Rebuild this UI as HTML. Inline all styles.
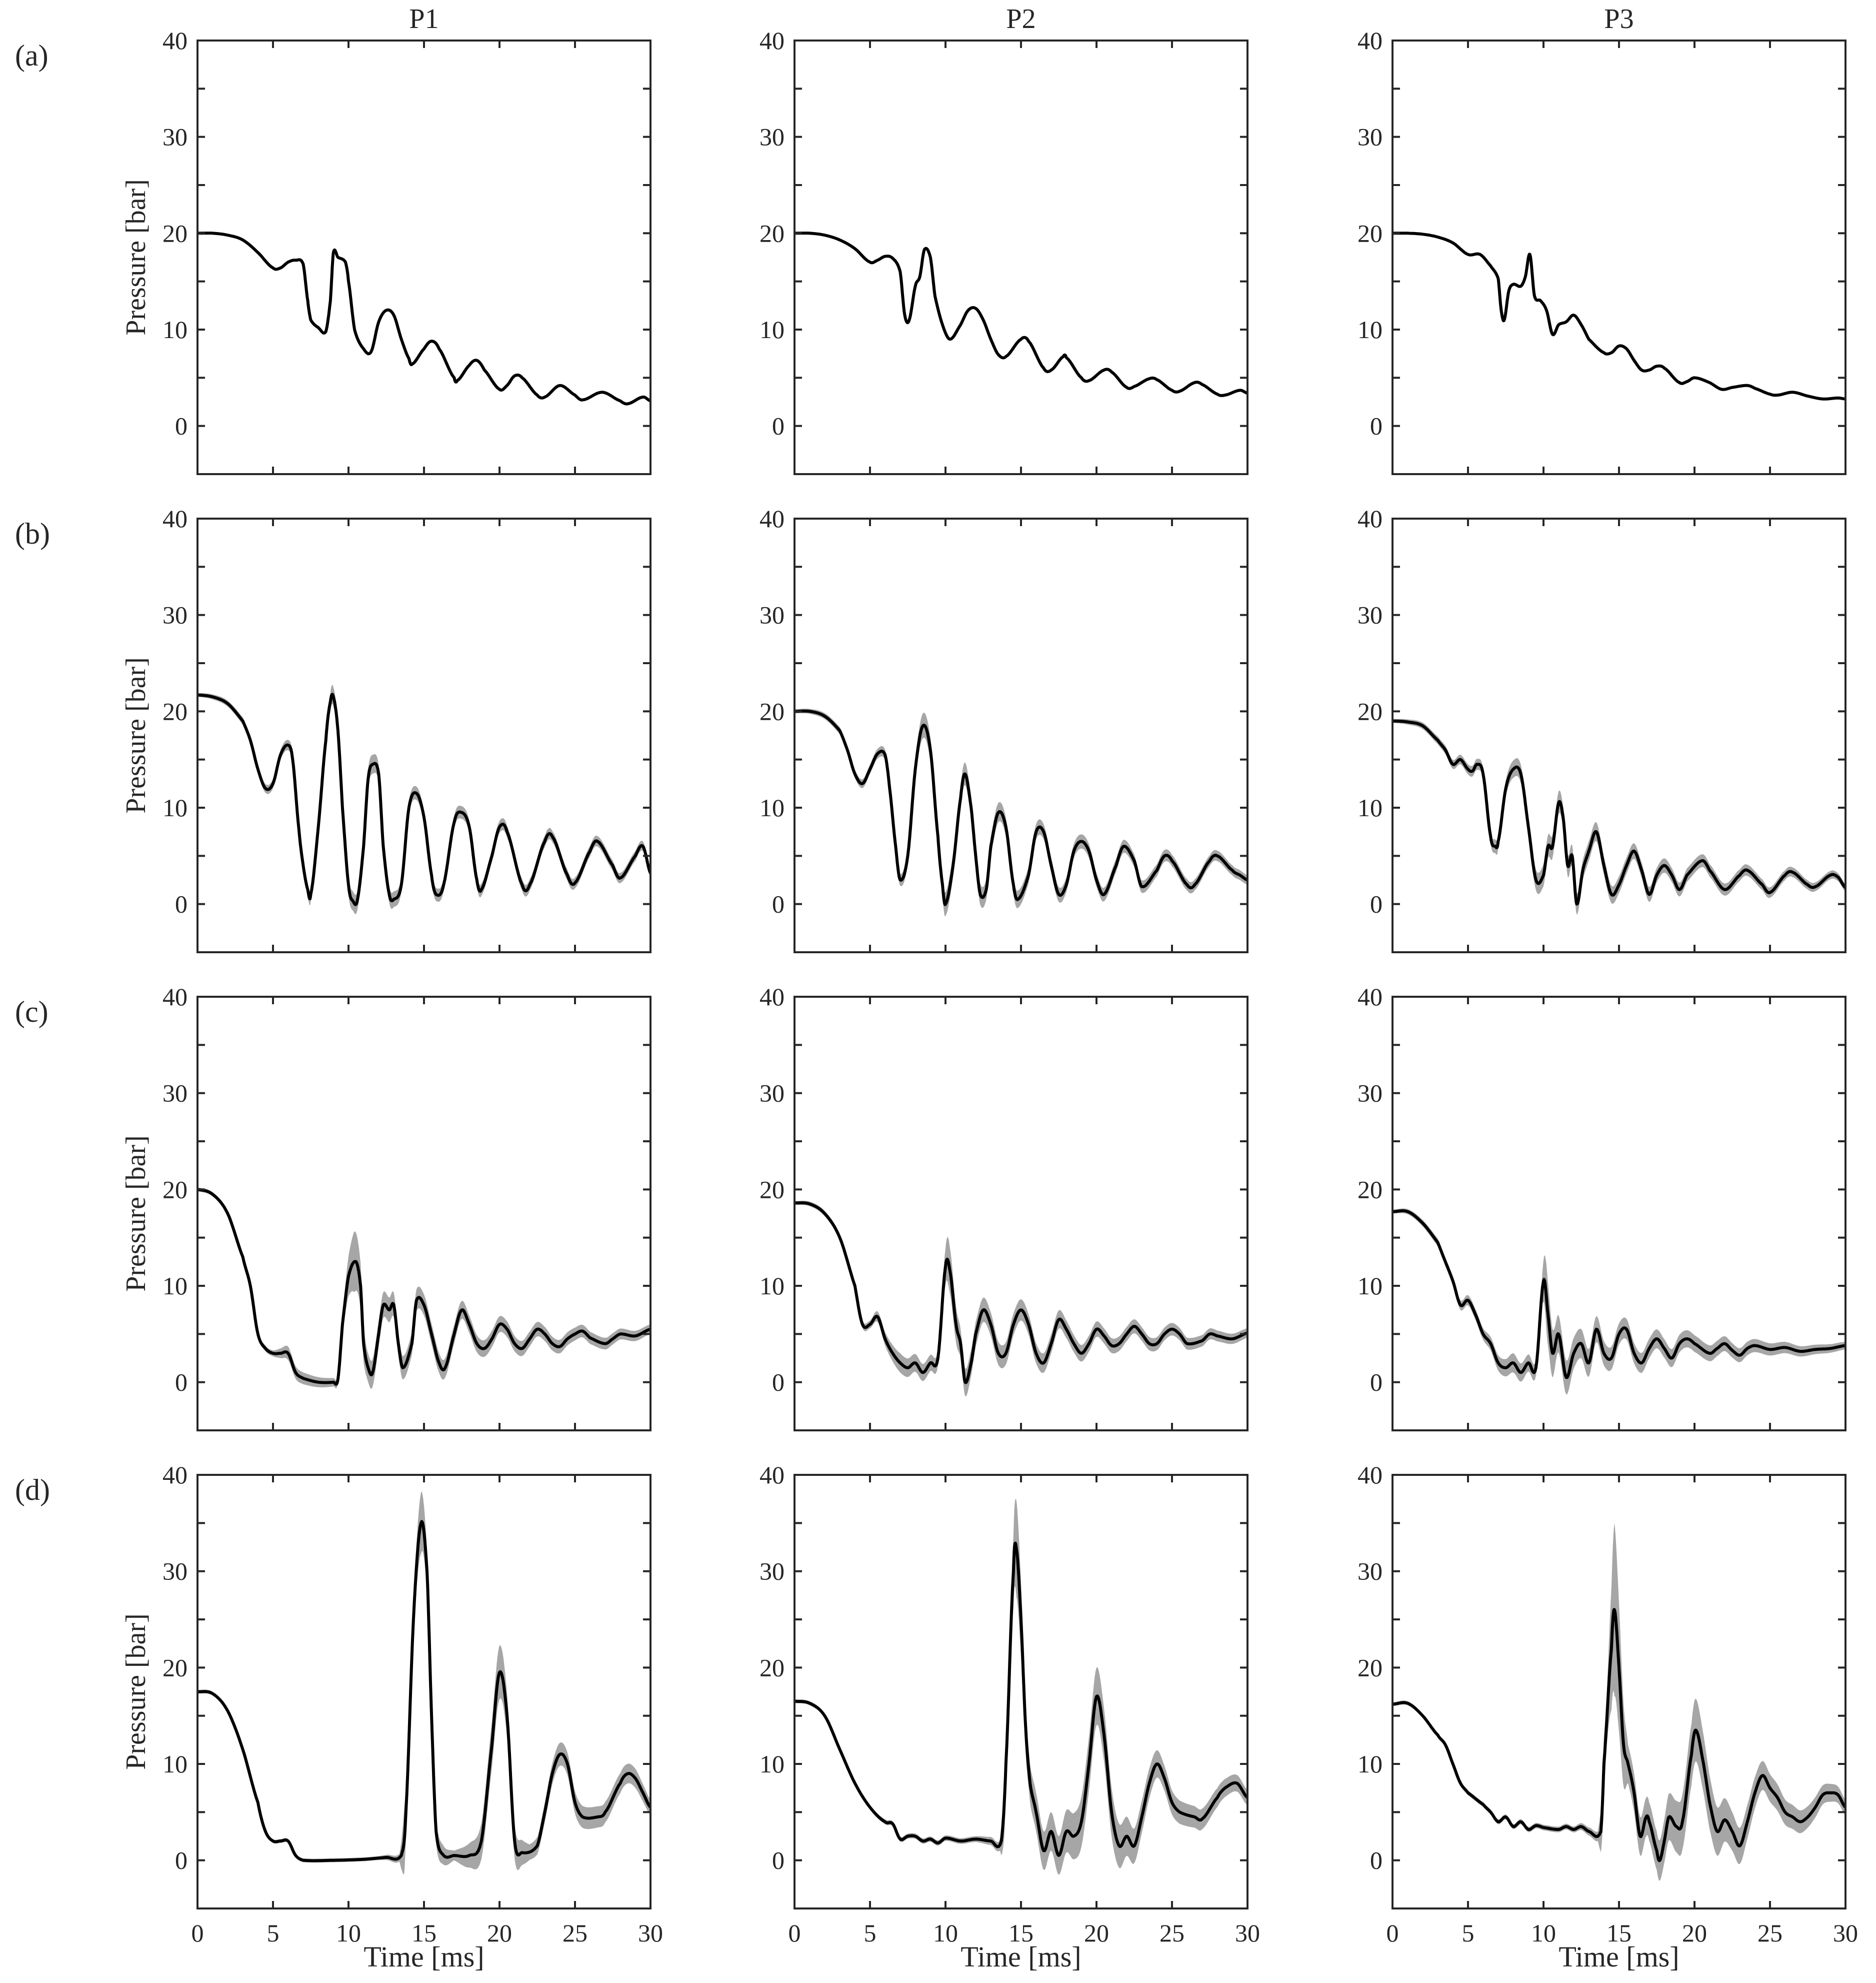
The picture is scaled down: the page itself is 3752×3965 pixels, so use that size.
<!DOCTYPE html>
<html><head><meta charset="utf-8"><style>
html,body{margin:0;padding:0;background:#fff}
svg{display:block}
text{font-family:"Liberation Serif",serif;fill:#262626}
</style></head><body>
<svg id="fig" xmlns="http://www.w3.org/2000/svg" width="3752" height="3965" viewBox="0 0 3752 3965"></svg>
<script>
// ---- data ----
const colTitles = ["P1","P2","P3"];
const rowLabels = ["(a)","(b)","(c)","(d)"];
const xTicks = [0,5,10,15,20,25,30];
const yTicks = [-5,0,5,10,15,20,25,30,35,40];
const yTickLabels = [0,10,20,30,40];

const a1T=[0,1,2,3,4,5,5.5,6,6.5,7,7.3,7.5,8,8.5,8.8,9,9.3,9.8,10,10.4,11,11.5,12,12.5,13,13.5,14,14.2,15,15.5,16,17,17.2,18,18.5,19,20,20.5,21,21.5,22.5,23,24,25,25.5,26.8,28,28.5,29.5,30];
const a1P=[20,20,19.8,19.3,18,16.4,16.4,17,17.2,16.8,13,11,10.2,9.8,13,18,17.5,17,15,10,8,7.7,10.8,12,11.5,9,7,6.4,8,8.8,8,5,4.7,6.3,6.8,5.8,3.8,4.2,5.2,5,3.2,3,4.2,3.2,2.7,3.5,2.6,2.3,3,2.6];
const a2T=[0,1,2,3,4,5,5.5,6,6.5,7,7.3,7.6,8,8.3,8.6,9,9.3,9.8,10.3,11,11.5,12,12.5,13,13.5,14,15,15.5,16.5,17,17.8,18,19,19.5,20.5,21,22,22.5,23.5,24,25,25.5,26.5,27,28,28.5,29.5,30];
const a2P=[20,20,19.8,19.3,18.4,17,17.2,17.6,17.4,16,11.5,11,14.5,15.5,18.3,17.5,13.5,10.5,9,10.5,12,12.2,11,9,7.4,7.2,9,8.8,6,5.8,7.2,7.1,5,4.7,5.8,5.6,4,4.1,4.9,4.8,3.7,3.6,4.5,4.3,3.3,3.2,3.7,3.4];
const a3T=[0,1,2,3,4,5,5.8,6.5,7,7.2,7.4,7.7,8,8.5,8.8,9.1,9.4,9.8,10.2,10.6,11,11.5,12,12.5,13,14,14.5,15,15.5,16,16.5,17,17.5,18,19,19.5,20,21,21.8,22.5,23.5,24,25,25.5,26.5,27.5,28.5,29.5,30];
const a3P=[20,20,19.9,19.6,19,17.8,17.8,16.6,15.3,12,11,14,14.7,14.5,15.5,17.8,13.5,13,12,9.5,10.5,10.8,11.5,10.5,9,7.6,7.6,8.3,8,6.8,5.8,5.8,6.2,6,4.5,4.6,5,4.5,3.8,4,4.2,3.9,3.3,3.2,3.5,3.1,2.8,2.9,2.8];

const b1T=[0,1,2,3,3.5,4,4.5,5,5.5,6,6.3,6.7,7,7.3,7.5,8,8.5,8.8,9,9.3,9.6,10,10.3,10.6,11,11.3,11.6,12,12.3,12.7,13,13.5,14,14.5,15,15.5,15.8,16.3,17,17.5,18,18.5,18.8,19.5,20,20.5,21.5,22,23,23.5,24.5,25,26,26.5,27.5,28,29,29.5,30];
const b1P=[21.7,21.5,20.8,19,17,14,12,12.5,15.5,16.5,15,8,4,1.5,1,8,17,21,21.5,18,10,2,0.3,0.5,6,13,14.5,13.5,6,1,0.5,2,10,11.5,9,3,1,2,8.5,9.5,8,2.5,1.5,5,8,7.5,2,2,6.5,7,3,2.2,5.5,6.5,4,2.7,5,6,3.2];
const b2T=[0,1,2,3,3.5,4,4.5,5,5.5,6,6.3,6.7,7,7.5,8,8.5,9,9.5,9.8,10,10.5,11,11.3,11.7,12,12.3,12.7,13,13.5,14,14.5,14.8,15.5,16,16.5,17,17.5,18,18.5,19,19.5,20,20.5,21.3,21.8,22.5,23,24,24.5,25,26,26.5,27.5,28,29,29.5,30];
const b2P=[20,20,19.5,18,16,13.5,12.5,14,15.6,15.5,12,6,2.5,5,14,18.5,16,7,2,0,4,11,13.5,10,5,1,1.5,6,9.5,8,2,0.5,3,7.5,7.5,4,1,2,5.5,6.5,5.5,2.5,1,4,6,4.5,1.8,3.5,5,4.5,2,2,4.5,5,3.5,3,2.5];
const b3T=[0,1,2,3,3.5,4,4.5,5,5.3,5.6,6,6.5,6.8,7,7.5,8,8.5,9,9.5,10,10.3,10.6,11,11.3,11.6,11.9,12.2,12.6,13,13.5,14,14.5,15,15.5,16,16.5,17,17.5,18,18.5,19,19.5,20.5,21,22,23,23.5,24.5,25,26,26.5,27.5,28,29,29.5,30];
const b3P=[19,18.9,18.5,17,16,14.5,15,14,13.8,14.5,13.5,7,6,6.5,12,14,13.5,8,2.5,3,6,6,10.5,9,4,5,0,3.5,5.5,7.5,4,1,2,4,5.5,3.5,1,3,4,3,1.5,3,4.5,3.5,1.5,3,3.5,2,1.2,3,3.3,2,1.8,3,2.8,1.7];

const c1T=[0,1,2,3,3.5,4,4.5,5,5.5,6,6.5,7,8,9,9.3,9.6,10,10.5,10.8,11,11.3,11.6,12,12.3,12.7,13,13.3,13.6,14.2,14.5,15,15.5,16,16.4,17,17.5,18,18.5,19,19.5,20,20.5,21,21.5,22,22.5,23,23.5,24,24.5,25,25.5,26,27,27.5,28,29,30];
const c1P=[20,19.5,17.5,13,10,5,3.5,3,3,3,1,0.4,0,0,0.3,6,11,12.5,10,4,1.5,1,5,8,7.5,8,4,1.5,4,8.5,8,5,2,1.5,5,7.5,6,4,3.5,4.5,6,5.5,4,3.5,4.5,5.5,5,4,3.7,4.5,5,5.3,4.6,4,4.5,5,4.8,5.5];
const c2T=[0,1,2,3,4,4.5,5,5.5,6,6.5,7,7.5,8,8.5,9,9.5,10,10.3,10.7,11,11.3,11.7,12,12.5,13,13.5,14,14.5,15,15.5,16,16.5,17,17.5,18,18.5,19,19.5,20,20.5,21,21.5,22,22.5,23,23.5,24,24.5,25,25.5,26,27,27.5,28,29,30];
const c2P=[18.6,18.5,17.5,15,10,6,6,6.8,4.5,3,2,1.5,2,1,2,2.5,12,11.5,6,4,0,2,5,7.5,6,3,3,6,7.5,6,3,2,4,6.5,5.5,4,3,4,5.5,4.8,3.8,4,5,5.8,5,4,4,5,5.5,5,4,4.3,5,4.8,4.5,5.1];
const c3T=[0,1,2,3,3.5,4,4.5,5,5.5,6,6.5,7,7.5,8,8.5,9,9.5,10,10.3,10.6,11,11.5,12,12.5,13,13.5,14,14.5,15,15.5,16,16.5,17,17.5,18,18.5,19,19.5,20,21,21.5,22,22.5,23,23.5,24,25,26,27,28,29,30];
const c3P=[17.7,17.7,16.5,14.5,12.5,10.5,8,8.5,7,5,4,2,1.5,2,1,2,1.5,10.5,7,3,5,0.5,3,4,2,5.5,3,2.5,5,5.5,3,2,3.5,4.5,3.5,2.5,4,4.5,4,3,3.5,4,3.3,2.8,3.5,3.8,3.4,3.6,3.2,3.4,3.5,3.8];

const d1T=[0,1,2,3,4,4.5,5,5.5,6,6.5,7,9,11,12.5,13.5,13.8,14.3,14.8,15.2,15.5,15.8,16.3,17,18,18.8,19.5,20,20.5,21,21.5,22.5,23,23.5,24,24.5,25,25.5,26.5,27,28,28.5,29,29.5,30];
const d1P=[17.5,17.3,15.5,11.5,6,3,2,2,2,0.5,0,0,0.1,0.3,0.5,5,25,35,30,15,3,0.5,0.5,0.5,2,12,19.5,15,2,0.8,1.5,5,9,11,10,6,4.5,4.5,5,8,9,8.5,7,5.5];
const d2T=[0,1,2,3,4,5,6,6.5,7,7.5,8,8.5,9,9.5,10,11,12,13,13.7,14,14.5,14.7,15,15.3,15.6,16,16.5,17,17.5,18,18.5,19,19.5,20,20.5,21,21.5,22,22.5,23,23.5,24,24.5,25,25.5,26.5,27,28,28.5,29.3,30];
const d2P=[16.5,16.3,15,11.5,8,5.5,4,3.8,2.2,2.5,2.5,2,2.2,1.8,2.3,2,2.2,2,2,10,30,32.3,25,14,8,5,1,3,0.5,3,2.5,4,10,17,13,5,1.5,2.5,1.5,4.5,8,10,8.5,6,5,4.5,4.3,6.5,7.5,8,6.5];
const d3T=[0,1,2,3,3.5,4,4.5,5,6,6.5,7,7.5,8,8.5,9,9.5,10,11,11.5,12,12.5,13,13.8,14,14.5,14.7,15,15.3,15.6,16,16.4,16.8,17,17.5,17.7,18,18.3,18.8,19.2,19.8,20.1,20.6,21,21.5,22,22.5,23,23.5,24,24.5,25,25.5,26,26.5,27,27.5,28,28.5,29,29.5,30];
const d3P=[16.2,16.3,15,13,12,10,8,7,5.8,5,4,4.5,3.5,4,3.2,3.6,3.4,3.2,3.5,3.2,3.5,3,3,10,22,26,20,12,10,7,2.5,4.5,4,1,0,2,4.5,3.5,4,11,13.5,10,6,3,4.2,3,1.5,4,7,8.8,7.5,6.5,5,4.5,4,4.5,5.5,6.8,7,6.8,5.5];

// band (gray spread) knots: time, half-width [bar]
const b1BandT=[0,7,9,11.5,14,30], b1BandW=[0.2,0.6,1,1,0.7,0.5];
const b2BandT=[0,7,8.5,11,16,30], b2BandW=[0.2,0.6,1.3,1.2,0.8,0.5];
const b3BandT=[0,6,8,10.5,16,30], b3BandW=[0.2,0.6,0.9,1.2,0.8,0.4];
const c1BandT=[0,5,6,9.4,10.4,11.2,12.5,15,18,30], c1BandW=[0.2,0.3,0.7,0.4,3.2,1.5,1.3,1.1,0.9,0.5];
const c2BandT=[0,5,7,9.6,10.2,11,12,15,20,30], c2BandW=[0.2,0.4,1,0.8,2.5,1.5,1.3,1.1,0.8,0.5];
const c3BandT=[0,6,8,9.8,10.2,10.8,12,15,30], c3BandW=[0.2,0.6,1,0.8,3.5,2,1.6,1.1,0.4];
const d1BandT=[0,12,13.4,13.7,14,14.8,15.5,17,20,22,24,29,30], d1BandW=[0.2,0.2,0.4,3.5,1,3.2,1.5,0.5,2.8,0.8,1.2,1,0.8];
const d2BandT=[0,12,13.6,13.9,14.2,14.7,15.5,17.5,20,22.5,24.5,30], d2BandW=[0.2,0.3,0.5,3.5,2,5,2,2,3,1.8,1.3,0.8];
const d3BandT=[0,12,13.6,13.9,14.2,14.7,15.6,17.5,20,22.5,24.5,30], d3BandW=[0.2,0.3,0.5,3,2.5,9,2,2,3.3,2,1.5,0.8];

const panels=[
 [a1T,a1P,null,null],[a2T,a2P,null,null],[a3T,a3P,null,null],
 [b1T,b1P,b1BandT,b1BandW],[b2T,b2P,b2BandT,b2BandW],[b3T,b3P,b3BandT,b3BandW],
 [c1T,c1P,c1BandT,c1BandW],[c2T,c2P,c2BandT,c2BandW],[c3T,c3P,c3BandT,c3BandW],
 [d1T,d1P,d1BandT,d1BandW],[d2T,d2P,d2BandT,d2BandW],[d3T,d3P,d3BandT,d3BandW]
];

// ---- layout ----
const NS="http://www.w3.org/2000/svg";
const svg=document.getElementById('fig');
const colX=[395,1589,2785], W=906;
const rowY=[81,1037,1993,2949], H=867;
function mk(tag,attrs,parent){const e=document.createElementNS(NS,tag);for(const k in attrs)e.setAttribute(k,attrs[k]);(parent||svg).appendChild(e);return e;}

function densify(T,P){
  const out=[];
  for(let i=0;i<T.length-1;i++){
    const p0=P[Math.max(0,i-1)],p1=P[i],p2=P[i+1],p3=P[Math.min(P.length-1,i+2)];
    const t0=T[i],t1=T[i+1];
    const N=8;
    for(let k=0;k<N;k++){
      const s=k/N;
      const v=0.5*((2*p1)+(-p0+p2)*s+(2*p0-5*p1+4*p2-p3)*s*s+(-p0+3*p1-3*p2+p3)*s*s*s);
      out.push([t0+(t1-t0)*s,v]);
    }
  }
  out.push([T[T.length-1],P[P.length-1]]);
  return out;
}
function interp(T,V,t){
  if(t<=T[0])return V[0];
  for(let i=0;i<T.length-1;i++){if(t<=T[i+1]){const f=(t-T[i])/(T[i+1]-T[i]);return V[i]+f*(V[i+1]-V[i]);}}
  return V[V.length-1];
}

panels.forEach((pd,idx)=>{
  const r=Math.floor(idx/3), c=idx%3;
  const x0=colX[c], y0=rowY[r];
  const sx=t=>x0+t/30*W;
  const sy=v=>y0+(40-v)/45*H;
  const g=mk('g',{});
  
  
  const cid='clip'+idx;
  const cp=mk('clipPath',{id:cid},g);
  mk('rect',{x:x0,y:y0,width:W,height:H},cp);
  const pts=densify(pd[0],pd[1]);
  if(pd[2]){
    const up=pts.map(p=>[p[0],p[1]+interp(pd[2],pd[3],p[0])]);
    const lo=pts.map(p=>[p[0],p[1]-interp(pd[2],pd[3],p[0])]).reverse();
    const d='M'+up.concat(lo).map(p=>sx(p[0]).toFixed(1)+','+sy(p[1]).toFixed(1)).join('L')+'Z';
    const band=mk('path',{d:d,fill:'#a6a6a6',stroke:'none','clip-path':'url(#'+cid+')'},g);
    
    
  }
  const d='M'+pts.map(p=>sx(p[0]).toFixed(1)+','+sy(p[1]).toFixed(1)).join('L');
  const line=mk('path',{d:d,fill:'none',stroke:'#000','stroke-width':6,'stroke-linejoin':'round','clip-path':'url(#'+cid+')'},g);
  
  
  const box=mk('rect',{x:x0,y:y0,width:W,height:H,fill:'none',stroke:'#262626','stroke-width':4},g);
  
  
  xTicks.forEach(t=>{
    mk('line',{x1:sx(t),x2:sx(t),y1:y0+H,y2:y0+H-15,stroke:'#262626','stroke-width':4},g);
    mk('line',{x1:sx(t),x2:sx(t),y1:y0,y2:y0+15,stroke:'#262626','stroke-width':4},g);
    if(r===3){
      const tl=mk('text',{x:sx(t),y:y0+H+66,'font-size':50,'text-anchor':'middle'},g);
      tl.textContent=t;
      
      
    }
  });
  yTicks.forEach(v=>{
    mk('line',{x1:x0,x2:x0+15,y1:sy(v),y2:sy(v),stroke:'#262626','stroke-width':4},g);
    mk('line',{x1:x0+W,x2:x0+W-15,y1:sy(v),y2:sy(v),stroke:'#262626','stroke-width':4},g);
  });
  yTickLabels.forEach(v=>{
    const tl=mk('text',{x:x0-20,y:sy(v)+17,'font-size':50,'text-anchor':'end'},g);
    tl.textContent=v;
    
    
  });
  if(c===0){
    const yl=mk('text',{x:0,y:0,'font-size':56,'text-anchor':'middle',transform:'translate(290,'+(y0+H/2)+') rotate(-90)'},g);
    yl.textContent='Pressure [bar]';
    
    
    const rl=mk('text',{x:30,y:y0+50,'font-size':60},g);
    rl.textContent=rowLabels[r];
    
    
  }
  if(r===0){
    const ct=mk('text',{x:x0+W/2,y:56,'font-size':56,'text-anchor':'middle'},g);
    ct.textContent=colTitles[c];
    
    
  }
  if(r===3){
    const xl=mk('text',{x:x0+W/2,y:3932,'font-size':58,'text-anchor':'middle'},g);
    xl.textContent='Time [ms]';
    
    
  }
});
</script>
</body></html>
